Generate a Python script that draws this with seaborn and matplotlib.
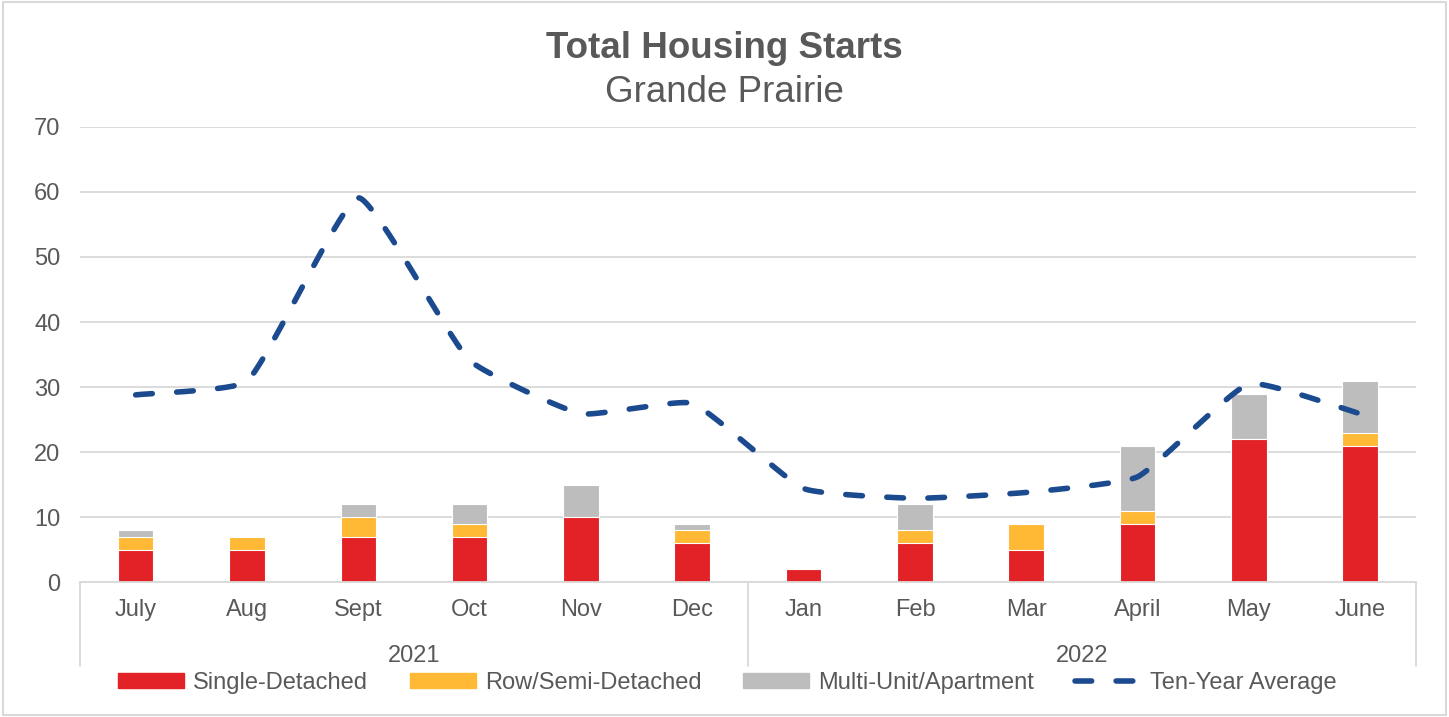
import numpy as np
import pandas as pd
import matplotlib
matplotlib.use("Agg")
import matplotlib.pyplot as plt
import matplotlib.transforms as mtransforms
from matplotlib.patches import Rectangle, Patch
from matplotlib.lines import Line2D
import seaborn as sns

# data
months = ["July", "Aug", "Sept", "Oct", "Nov", "Dec",
          "Jan", "Feb", "Mar", "April", "May", "June"]
years = ["2021", "2022"]
single = [5, 5, 7, 7, 10, 6, 2, 6, 5, 9, 22, 21]
row_semi = [2, 2, 3, 2, 0, 2, 0, 2, 4, 2, 0, 2]
multi = [1, 0, 2, 3, 5, 1, 0, 4, 0, 10, 7, 8]
ten_year_avg = [28.8, 30.9, 59.1, 34.1, 25.9, 27.5, 14.4, 12.9, 13.8, 16.2, 30.5, 25.9]

RED = "#E32227"
ORANGE = "#FFB935"
GRAY = "#BDBDBD"
BLUE = "#1B4A8F"
TXT = "#595959"
GRID = "#D9D9D9"
FS = 17

sns.set_style("white")
plt.rcParams["font.family"] = ["Liberation Sans", "DejaVu Sans"]

df = pd.DataFrame({"month": months, "single": single,
                   "row": row_semi, "multi": multi})
df["mid"] = df["single"] + df["row"]
df["total"] = df["mid"] + df["multi"]

fig = plt.figure(figsize=(14.49, 7.17), dpi=100)
ax = fig.add_axes([0.0552, 0.188, 0.922, 0.635])

bar_kw = dict(x="month", order=months, width=0.32, saturation=1,
              edgecolor="white", linewidth=0.8, ax=ax)
sns.barplot(data=df, y="total", color=GRAY, **bar_kw)
sns.barplot(data=df, y="mid", color=ORANGE, **bar_kw)
sns.barplot(data=df, y="single", color=RED, **bar_kw)


# smoothed line: bezier with short control arms weighted by segment length
# (done in screen proportions so it looks like Excel's smoothed line)
def smooth(xs, ys, yscale, k=0.14, n=40):
    P = np.column_stack([np.asarray(xs, float), np.asarray(ys, float) * yscale])
    m = len(P)
    cin, cout = P.copy(), P.copy()
    for i in range(m):
        a = P[max(i - 1, 0)]
        b = P[min(i + 1, m - 1)]
        d = b - a
        lp = np.linalg.norm(P[i] - a)
        ln = np.linalg.norm(b - P[i])
        tot = lp + ln
        if tot == 0:
            continue
        cout[i] = P[i] + d * (ln / tot) * k
        cin[i] = P[i] - d * (lp / tot) * k
    t = np.linspace(0, 1, n)[:, None]
    pts = []
    for i in range(m - 1):
        p0, c1, c2, p3 = P[i], cout[i], cin[i + 1], P[i + 1]
        pts.append((1 - t) ** 3 * p0 + 3 * (1 - t) ** 2 * t * c1
                   + 3 * (1 - t) * t ** 2 * c2 + t ** 3 * p3)
    pts = np.vstack(pts)
    return pts[:, 0], pts[:, 1] / yscale


# one category is ~111 px wide, one unit of y is ~6.5 px
sx, sy = smooth(np.arange(len(months)), ten_year_avg, 6.5 / 111.3)
line, = ax.plot(sx, sy, color=BLUE, lw=4, dash_capstyle="round")
line.set_dashes((3.0, 4.4))

ax.set_xlim(-0.5, 11.5)
ax.set_ylim(0, 70)
ax.set_yticks(range(0, 71, 10))
ax.yaxis.grid(True, color=GRID, lw=1.3)
ax.set_axisbelow(True)
ax.set_xlabel("")
ax.set_ylabel("")
for s in ["top", "right", "left"]:
    ax.spines[s].set_visible(False)
ax.spines["bottom"].set_color(GRID)
ax.spines["bottom"].set_linewidth(1.3)
ax.tick_params(axis="y", length=0, pad=14, labelsize=FS, labelcolor=TXT)
ax.tick_params(axis="x", length=0, pad=12, labelsize=FS, labelcolor=TXT)
ax.set_xticks(range(len(months)))
ax.set_xticklabels(months)

# two-level category axis
trans = mtransforms.blended_transform_factory(ax.transData, ax.transAxes)
for xv in [-0.5, 5.5, 11.5]:
    ax.plot([xv, xv], [0, -0.183], transform=trans, color=GRID, lw=1.3,
            clip_on=False)
ax.text(2.5, -0.161, years[0], transform=trans, ha="center", va="center",
        fontsize=FS, color=TXT)
ax.text(8.5, -0.161, years[1], transform=trans, ha="center", va="center",
        fontsize=FS, color=TXT)

fig.text(0.5, 0.933, "Total Housing Starts", ha="center", va="center",
         fontsize=26.5, fontweight="bold", color=TXT)
fig.text(0.5, 0.871, "Grande Prairie", ha="center", va="center",
         fontsize=26.5, color=TXT)

handles = [Patch(color=RED), Patch(color=ORANGE), Patch(color=GRAY),
           Line2D([], [], color=BLUE, lw=4, dashes=(3.0, 4.4),
                  dash_capstyle="round")]
labels = ["Single-Detached", "Row/Semi-Detached", "Multi-Unit/Apartment",
          "Ten-Year Average"]
leg = fig.legend(handles, labels, loc="center", bbox_to_anchor=(0.502, 0.047),
                 ncol=4, frameon=False, fontsize=FS, handlelength=2.8,
                 handleheight=0.6, handletextpad=0.38, columnspacing=1.75)
for t in leg.get_texts():
    t.set_color(TXT)

fig.patches.append(Rectangle((0.002, 0.003), 0.996, 0.994, transform=fig.transFigure,
                             fill=False, edgecolor=GRID, lw=1.5))

fig.savefig("out.png", dpi=100)
